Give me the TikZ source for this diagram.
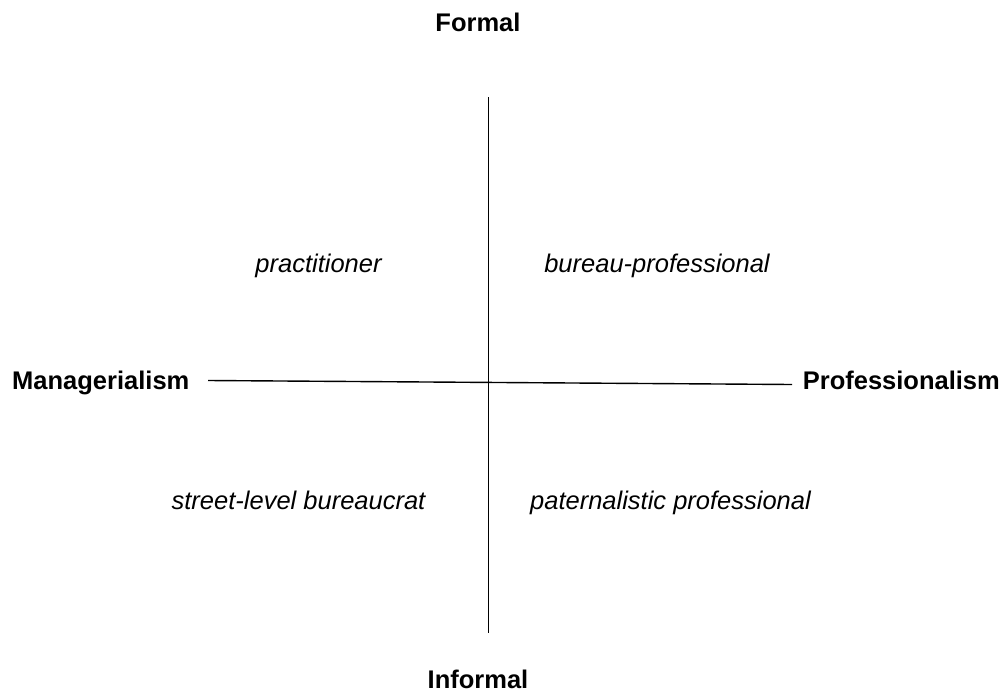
\documentclass[tikz,border=0pt]{standalone}
\usepackage{fontspec}
\setmainfont{Liberation Sans}
\begin{document}
\begin{tikzpicture}[x=1pt,y=-1pt,
  lbl/.style={inner sep=0pt,anchor=base,font=\fontsize{25.5}{30}\selectfont\bfseries},
  quad/.style={inner sep=0pt,anchor=base,font=\fontsize{25.5}{30}\selectfont\itshape},
  axis/.style={line width=1.4pt,black}]
\useasboundingbox (0,0) rectangle (1008,693);
\node[lbl] (formal) at (478,32) {Formal};
\node[lbl] (informal) at (478,688) {Informal};
\node[lbl,anchor=base west] (man) at (12,389) {Managerialism};
\node[lbl,anchor=base east] (prof) at (1000,389) {Professionalism};
\coordinate (vt) at (488.5,97);
\coordinate (vb) at (488.5,633);
\coordinate (hl) at (208,380.5);
\coordinate (hr) at (792,384.5);
\draw[axis] (vt) -- (vb);
\draw[axis] (hl) -- (hr);
\node[quad] (q1) at (318.5,272) {practitioner};
\node[quad] (q2) at (657,272) {bureau-professional};
\node[quad] (q3) at (298.5,509) {street-level bureaucrat};
\node[quad] (q4) at (670.5,509) {paternalistic professional};
\end{tikzpicture}
\end{document}
